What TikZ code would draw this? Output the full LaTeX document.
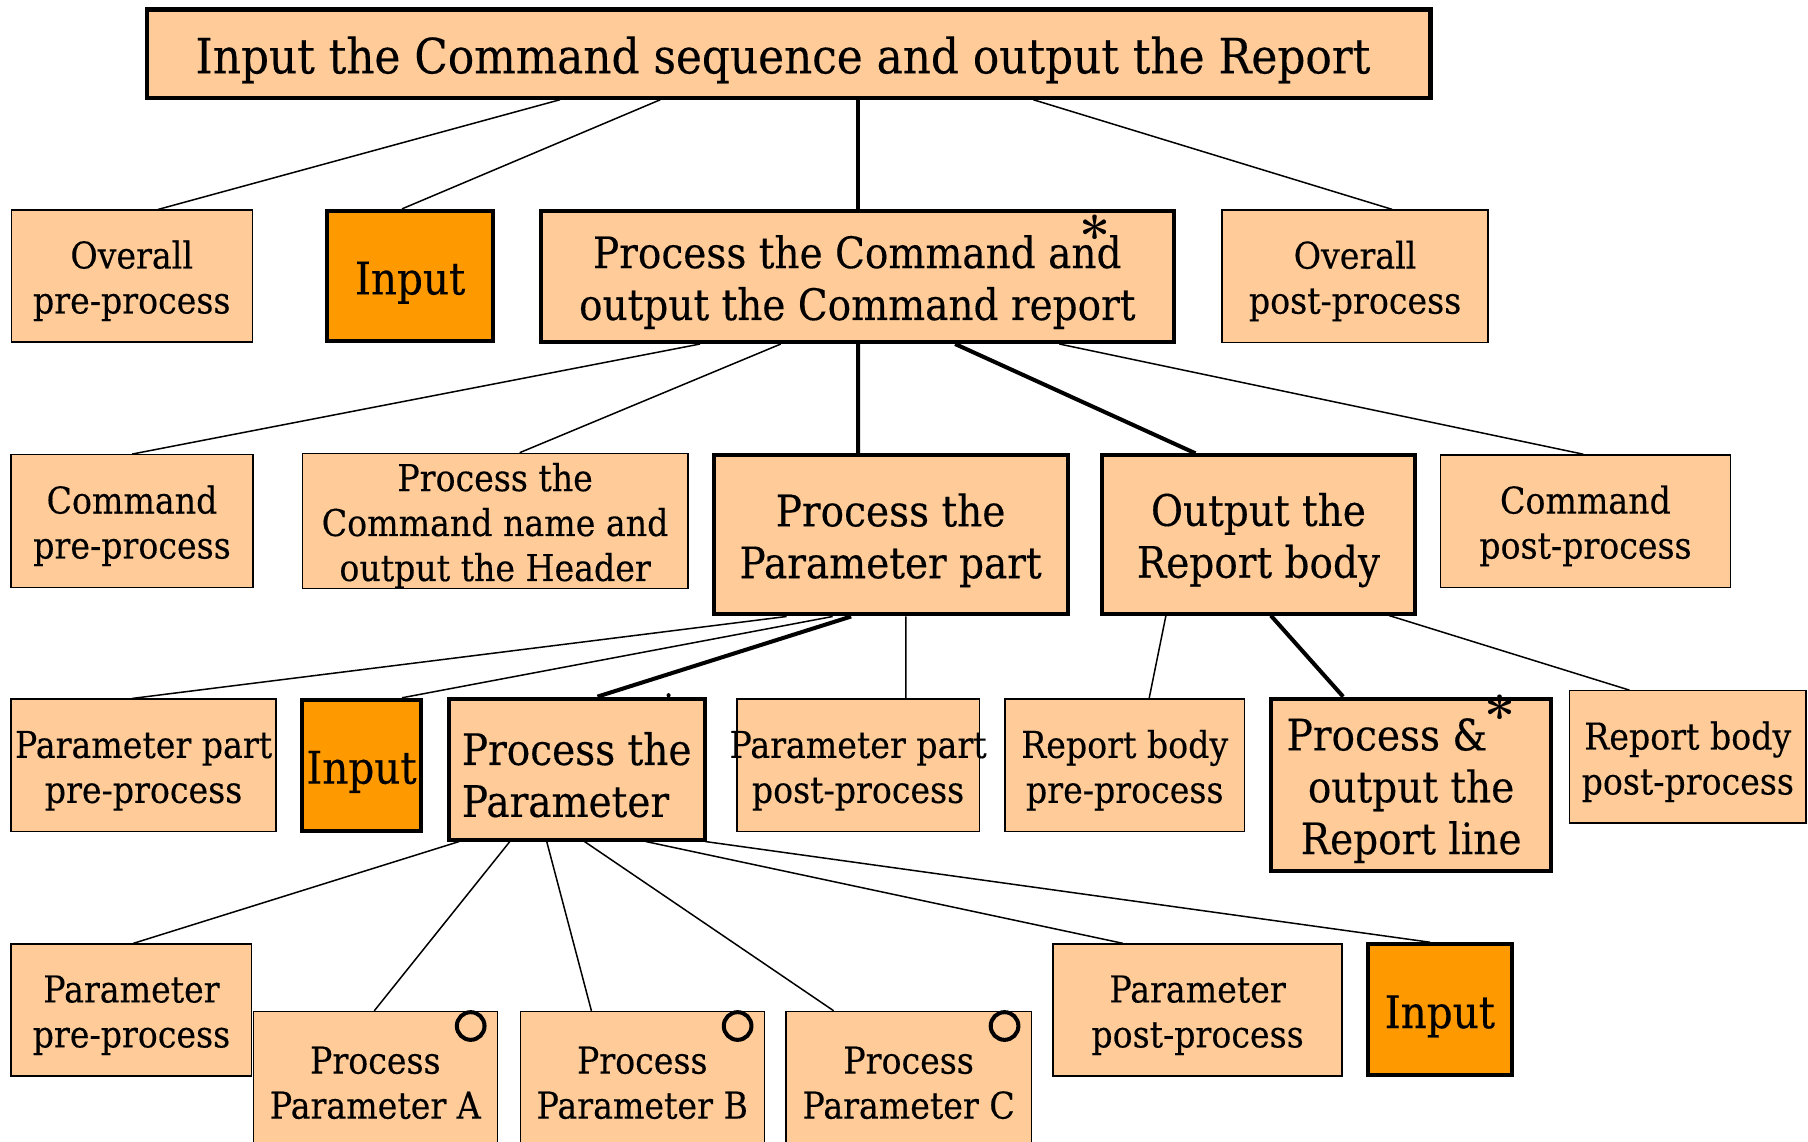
\documentclass[tikz,border=0pt]{standalone}
\usepackage{fontspec}
\newfontfamily\boxfont{DejaVu Serif}[FakeStretch=0.9,FakeBold=0.3]
\definecolor{peach}{HTML}{FFCC99}
\definecolor{orangebox}{HTML}{FF9900}
% strut on the first line of every box label, so the text block sits a little lower
\newcommand\txtlift{\rule{0pt}{1.02em}}

\begin{document}
\begin{tikzpicture}[x=0.5pt,y=-0.5pt,
  box/.style={rectangle, draw=black, fill=peach, inner sep=0pt, align=center, text=black},
  thinbox/.style={box, line width=0.6pt, font=\boxfont\fontsize{16}{19.5}\selectfont},
  thickbox/.style={box, line width=1.75pt, font=\boxfont\fontsize{18.8}{22.5}\selectfont},
  inputbox/.style={box, fill=orangebox, line width=1.75pt, font=\boxfont\fontsize{19.5}{22}\selectfont},
  thinlink/.style={line width=0.65pt},
  thicklink/.style={line width=1.75pt},
  repeatmark/.style={anchor=base, inner sep=0pt, font=\fontsize{24}{24}\selectfont\bfseries},
  selectmark/.style={circle, draw=black, line width=1.75pt, minimum size=12pt, inner sep=0pt},
]
\useasboundingbox (0,0) rectangle (1568,990);

% level 0
\node[thickbox, minimum width=556.6pt, minimum height=38.25pt,
      font=\boxfont\fontsize{21.1}{25}\selectfont] (top) at (684,46.5)
  {\txtlift Input the Command sequence and output the Report\hspace*{5pt}};

% level 1
\node[thinbox, minimum width=104.5pt, minimum height=57.1pt] (opre) at (114.25,239.35) {\txtlift Overall\\pre-process};
\node[inputbox, minimum width=72pt, minimum height=56.6pt] (in1) at (355.7,239.5) {\txtlift Input};
\node[thickbox, minimum width=274.6pt, minimum height=56.85pt] (pcmd) at (743.5,239.75)
  {\txtlift Process the Command and\\output the Command report};
\node[thinbox, minimum width=115.3pt, minimum height=57.3pt] (opost) at (1175.2,239.5) {\txtlift Overall\\post-process};

% level 2
\node[thinbox, minimum width=104.8pt, minimum height=57.45pt] (cpre) at (114.5,451.85) {\txtlift Command\\pre-process};
\node[thinbox, minimum width=167.3pt, minimum height=57.45pt] (cname) at (429.4,451.85)
  {\txtlift Process the\\Command name and\\output the Header};
\node[thickbox, minimum width=153.45pt, minimum height=69.2pt] (ppart) at (772.35,463.7) {\txtlift Process the\\Parameter part};
\node[thickbox, minimum width=135.7pt, minimum height=68.6pt] (rbody) at (1091.4,463.5) {\txtlift Output the\\Report body};
\node[thinbox, minimum width=125.85pt, minimum height=57.4pt] (cpost) at (1375,451.9) {\txtlift Command\\post-process};

% level 3
\node[thinbox, minimum width=114.8pt, minimum height=57.5pt] (pppre) at (124.5,663.8) {\txtlift Parameter part\\pre-process};
\node[inputbox, minimum width=51.6pt, minimum height=56.85pt] (in2) at (313.5,663.75) {\txtlift Input};
\node[thickbox, minimum width=110.95pt, minimum height=61.1pt, align=left] (param) at (500.15,667) {\txtlift Process the\\Parameter};
\node[thinbox, minimum width=105.15pt, minimum height=57.5pt] (pppost) at (744.15,663.8)
  {\txtlift\makebox[0pt]{Parameter part}\\\makebox[0pt]{post-process}};
\node[thinbox, minimum width=103.85pt, minimum height=57.55pt] (rbpre) at (975.45,663.75) {\txtlift Report body\\pre-process};
\node[thickbox, minimum width=121.3pt, minimum height=74.6pt] (rline) at (1223.8,680.5)
  {\txtlift Process \&\hspace*{21pt}\\output the\\Report line};
\node[thinbox, minimum width=102.55pt, minimum height=57.4pt] (rbpost) at (1463.75,656.5) {\txtlift Report body\\post-process};

% level 4
\node[thinbox, minimum width=104.3pt, minimum height=57.15pt] (ppre) at (114,875.85) {\txtlift Parameter\\pre-process};
\node[thinbox, minimum width=105.8pt, minimum height=57.3pt] (pa) at (325.5,934.5) {\txtlift Process\\Parameter A};
\node[thinbox, minimum width=105.8pt, minimum height=57.3pt] (pb) at (557,934.5) {\txtlift Process\\Parameter B};
\node[thinbox, minimum width=106.3pt, minimum height=57.3pt] (pc) at (788,934.5) {\txtlift Process\\Parameter C};
\node[thinbox, minimum width=125.4pt, minimum height=57.15pt] (pspost) at (1038.6,875.85) {\txtlift Parameter\\post-process};
\node[inputbox, minimum width=62.15pt, minimum height=56.9pt] (in3) at (1248.75,875.8) {\txtlift Input};

% iteration and selection marks
\node[repeatmark] (pcmdstar) at (949.6,222.3) {*};
\node[repeatmark] (rlinestar) at (1300.9,638.9) {*};
\node[selectmark] (oa) at (408.2,889.8) {};
\node[selectmark] (ob) at (639.7,889.8) {};
\node[selectmark] (oc) at (871.2,889.8) {};
\fill ([xshift=96.2pt,yshift=0.6pt]param.north west) circle (0.9pt);

% connectors
\draw[thinlink]  ([xshift=180pt]top.south west)   -- ([xshift=63.95pt]opre.north west);
\draw[thinlink]  ([xshift=223.5pt]top.south west) -- ([xshift=33.35pt]in1.north west);
\draw[thicklink] ([xshift=309.4pt]top.south west) -- ([xshift=138.65pt]pcmd.north west);
\draw[thinlink]  ([xshift=385.25pt]top.south west) -- ([xshift=74.05pt]opost.north west);

\draw[thinlink]  ([xshift=70pt]pcmd.south west)    -- ([xshift=52.75pt]cpre.north west);
\draw[thinlink]  ([xshift=105pt]pcmd.south west)   -- ([xshift=94.6pt]cname.north west);
\draw[thicklink] ([xshift=138.5pt]pcmd.south west) -- ([xshift=63.5pt]ppart.north west);
\draw[thicklink] ([xshift=180.6pt]pcmd.south west) -- ([xshift=41.4pt]rbody.north west);
\draw[thinlink]  ([xshift=225.8pt]pcmd.south west) -- ([xshift=62.25pt]cpost.north west);

\draw[thinlink]  ([xshift=32.5pt]ppart.south west)  -- ([xshift=52.8pt]pppre.north west);
\draw[thinlink]  ([xshift=52.5pt]ppart.south west)  -- ([xshift=44.25pt]in2.north west);
\draw[thicklink] ([xshift=60.5pt]ppart.south west)  -- ([xshift=65.35pt]param.north west);
\draw[thinlink]  ([xshift=84.25pt]ppart.south west) -- ([xshift=73.6pt]pppost.north west);

\draw[thinlink]  ([xshift=28.6pt]rbody.south west)  -- ([xshift=62.8pt]rbpre.north west);
\draw[thicklink] ([xshift=74.1pt]rbody.south west)  -- ([xshift=32.05pt]rline.north west);
\draw[thinlink]  ([xshift=125.4pt]rbody.south west) -- ([xshift=26.25pt]rbpost.north west);

\draw[thinlink] ([xshift=5.35pt]param.south west)  -- ([xshift=53.3pt]ppre.north west);
\draw[thinlink] ([xshift=27.35pt]param.south west) -- ([xshift=52.75pt]pa.north west);
\draw[thinlink] ([xshift=43.35pt]param.south west) -- ([xshift=31.15pt]pb.north west);
\draw[thinlink] ([xshift=59.75pt]param.south west) -- ([xshift=20.95pt]pc.north west);
\draw[thinlink] ([xshift=86.35pt]param.south west) -- ([xshift=30.6pt]pspost.north west);
\draw[thinlink] ([xshift=112.2pt]param.south west) -- ([xshift=27.65pt]in3.north west);
\end{tikzpicture}
\end{document}
